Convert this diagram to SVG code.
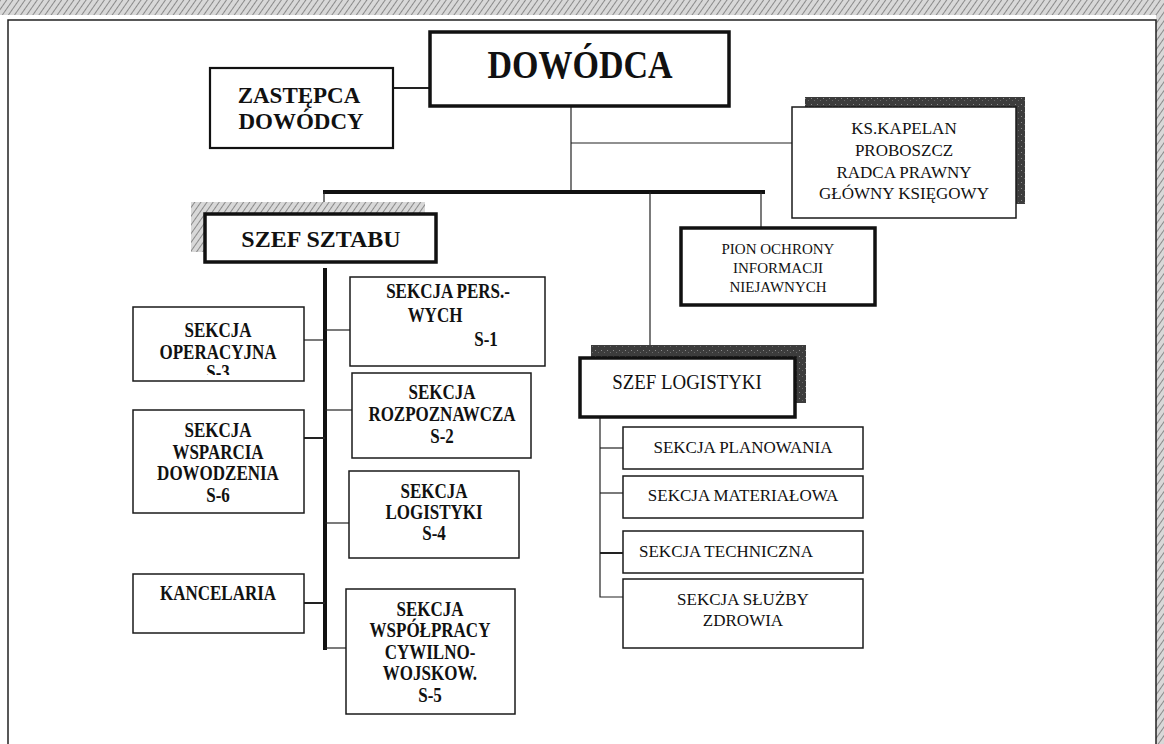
<svg xmlns="http://www.w3.org/2000/svg" width="1164" height="744" viewBox="0 0 1164 744">
  <defs>
    <pattern id="hatch" width="5" height="5" patternUnits="userSpaceOnUse" patternTransform="rotate(35)">
      <rect width="5" height="5" fill="#d8d8d8"/>
      <line x1="0" y1="0" x2="0" y2="5" stroke="#8a8a8a" stroke-width="2"/>
    </pattern>
    <pattern id="dark" width="6" height="6" patternUnits="userSpaceOnUse">
      <rect width="6" height="6" fill="#3c3c3c"/>
      <rect x="1" y="2" width="1" height="1" fill="#8a8a8a"/>
      <rect x="4" y="4" width="1" height="1" fill="#6a6a6a"/>
    </pattern>
    <clipPath id="clipOper">
      <rect x="133" y="307" width="171" height="68"/>
    </clipPath>
    <style>
      .box { fill: #fff; stroke: #1a1a1a; stroke-width: 1.5; }
      .heavy { fill: #fff; stroke: #111; stroke-width: 3.5; }
      .mid { fill: #fff; stroke: #111; stroke-width: 2.2; }
      .bold { font-family: "Liberation Serif", "Times New Roman", serif; font-weight: bold; fill: #111; text-anchor: middle; }
      .reg { font-family: "Liberation Serif", "Times New Roman", serif; fill: #111; text-anchor: middle; }
      .sec { font-size: 20px; }
      .ln { stroke: #222; stroke-width: 1.2; fill: none; }
      .ln2 { stroke: #222; stroke-width: 2; fill: none; }
      .thick { stroke: #111; stroke-width: 4; fill: none; }
    </style>
  </defs>

  <rect width="1164" height="744" fill="#fff"/>

  <!-- page frame with hatched edges -->
  <g id="frame">
    <rect x="0" y="0" width="1164" height="15" fill="url(#hatch)"/>
    <rect x="1156" y="0" width="8" height="744" fill="url(#hatch)"/>
    <polyline points="8,744 8,20 1156,20 1156,744" fill="none" stroke="#222" stroke-width="1.5"/>
  </g>

  <!-- connectors -->
  <g id="connectors">
    <line class="ln2" x1="393" y1="88" x2="430" y2="88"/>
    <line class="ln" x1="571" y1="106" x2="571" y2="192"/>
    <line class="ln" x1="571" y1="143" x2="792" y2="143"/>
    <line class="thick" x1="323" y1="192" x2="765" y2="192"/>
    <line class="ln" x1="324" y1="192" x2="324" y2="214"/>
    <line class="ln" x1="650" y1="192" x2="650" y2="345"/>
    <line class="ln" x1="761" y1="192" x2="761" y2="228"/>
    <!-- chief of staff spine -->
    <line class="thick" x1="325" y1="268" x2="325" y2="650"/>
    <line class="ln" x1="304" y1="340" x2="325" y2="340"/>
    <line class="ln" x1="325" y1="330" x2="350" y2="330"/>
    <line class="ln" x1="325" y1="410" x2="352" y2="410"/>
    <line class="ln2" x1="304" y1="438" x2="325" y2="438"/>
    <line class="ln" x1="325" y1="523" x2="349" y2="523"/>
    <line class="ln2" x1="304" y1="603" x2="325" y2="603"/>
    <line class="ln" x1="325" y1="648" x2="346" y2="648"/>
    <!-- logistics spine -->
    <polyline class="ln" points="600,417 600,597 623,597"/>
    <line class="ln" x1="600" y1="448" x2="623" y2="448"/>
    <line class="ln" x1="600" y1="493" x2="623" y2="493"/>
    <line class="ln2" x1="600" y1="553" x2="623" y2="553"/>
  </g>

  <g id="dowodca">
    <rect class="heavy" x="430" y="32" width="299" height="74"/>
    <text class="bold" transform="matrix(0.85 0 0 1 580 0)" x="0" y="78" font-size="40">DOWÓDCA</text>
  </g>

  <g id="zastepca">
    <rect class="mid" x="210" y="68" width="183" height="80"/>
    <text class="bold" x="299" y="103" font-size="23">ZASTĘPCA</text>
    <text class="bold" x="301" y="129" font-size="23">DOWÓDCY</text>
  </g>

  <g id="kapelan">
    <rect x="805" y="97" width="220" height="107" fill="url(#dark)"/>
    <rect class="box" x="792" y="107" width="224" height="111"/>
    <text class="reg" x="904" y="134" font-size="17">KS.KAPELAN</text>
    <text class="reg" x="904" y="156" font-size="17">PROBOSZCZ</text>
    <text class="reg" x="904" y="178" font-size="17">RADCA PRAWNY</text>
    <text class="reg" x="904" y="199" font-size="17">GŁÓWNY KSIĘGOWY</text>
  </g>

  <g id="szef-sztabu">
    <rect x="191" y="202" width="234" height="50" fill="url(#hatch)"/>
    <rect class="heavy" x="205" y="214" width="231" height="48"/>
    <text class="bold" x="321" y="247" font-size="24">SZEF SZTABU</text>
  </g>

  <g id="pion">
    <rect class="heavy" x="681" y="228" width="194" height="77"/>
    <text class="reg" x="778" y="254" font-size="15">PION OCHRONY</text>
    <text class="reg" x="778" y="273" font-size="15">INFORMACJI</text>
    <text class="reg" x="778" y="292" font-size="15">NIEJAWNYCH</text>
  </g>

  <g id="sekcja-oper">
    <rect class="box" x="133" y="307" width="171" height="74"/>
    <g clip-path="url(#clipOper)">
      <text class="bold sec" transform="matrix(0.85 0 0 1 218 0)" x="0" y="337">SEKCJA</text>
      <text class="bold sec" transform="matrix(0.85 0 0 1 218 0)" x="0" y="359">OPERACYJNA</text>
      <text class="bold sec" transform="matrix(0.85 0 0 1 218 0)" x="0" y="379">S-3</text>
    </g>
  </g>

  <g id="sekcja-wsparcia">
    <rect class="box" x="133" y="410" width="171" height="103"/>
    <text class="bold sec" transform="matrix(0.85 0 0 1 218 0)" x="0" y="437">SEKCJA</text>
    <text class="bold sec" transform="matrix(0.85 0 0 1 218 0)" x="0" y="459">WSPARCIA</text>
    <text class="bold sec" transform="matrix(0.85 0 0 1 218 0)" x="0" y="480">DOWODZENIA</text>
    <text class="bold sec" transform="matrix(0.85 0 0 1 218 0)" x="0" y="502">S-6</text>
  </g>

  <g id="kancelaria">
    <rect class="box" x="133" y="574" width="171" height="59"/>
    <text class="bold sec" transform="matrix(0.85 0 0 1 218 0)" x="0" y="600">KANCELARIA</text>
  </g>

  <g id="sekcja-pers">
    <rect class="box" x="350" y="277" width="195" height="89"/>
    <text class="bold sec" transform="matrix(0.85 0 0 1 448 0)" x="0" y="298">SEKCJA PERS.-</text>
    <text class="bold sec" transform="matrix(0.85 0 0 1 435 0)" x="0" y="322">WYCH</text>
    <text class="bold sec" transform="matrix(0.85 0 0 1 486 0)" x="0" y="346">S-1</text>
  </g>

  <g id="sekcja-rozp">
    <rect class="box" x="352" y="373" width="179" height="85"/>
    <text class="bold sec" transform="matrix(0.85 0 0 1 442 0)" x="0" y="399">SEKCJA</text>
    <text class="bold sec" transform="matrix(0.85 0 0 1 442 0)" x="0" y="421">ROZPOZNAWCZA</text>
    <text class="bold sec" transform="matrix(0.85 0 0 1 442 0)" x="0" y="443">S-2</text>
  </g>

  <g id="sekcja-log">
    <rect class="box" x="349" y="471" width="170" height="87"/>
    <text class="bold sec" transform="matrix(0.85 0 0 1 434 0)" x="0" y="498">SEKCJA</text>
    <text class="bold sec" transform="matrix(0.85 0 0 1 434 0)" x="0" y="519">LOGISTYKI</text>
    <text class="bold sec" transform="matrix(0.85 0 0 1 434 0)" x="0" y="540">S-4</text>
  </g>

  <g id="sekcja-wsp">
    <rect class="box" x="346" y="589" width="169" height="125"/>
    <text class="bold sec" transform="matrix(0.85 0 0 1 430 0)" x="0" y="616">SEKCJA</text>
    <text class="bold sec" transform="matrix(0.85 0 0 1 430 0)" x="0" y="637">WSPÓŁPRACY</text>
    <text class="bold sec" transform="matrix(0.85 0 0 1 430 0)" x="0" y="659">CYWILNO-</text>
    <text class="bold sec" transform="matrix(0.85 0 0 1 430 0)" x="0" y="680">WOJSKOW.</text>
    <text class="bold sec" transform="matrix(0.85 0 0 1 430 0)" x="0" y="702">S-5</text>
  </g>

  <g id="szef-logistyki">
    <rect x="591" y="345" width="215" height="58" fill="url(#dark)"/>
    <rect class="heavy" x="580" y="358" width="215" height="59"/>
    <text class="reg" transform="matrix(0.9 0 0 1 687 0)" x="0" y="389" font-size="21">SZEF LOGISTYKI</text>
  </g>

  <g id="sekcja-planowania">
    <rect class="box" x="623" y="427" width="240" height="42"/>
    <text class="reg" x="743" y="453" font-size="17">SEKCJA PLANOWANIA</text>
  </g>

  <g id="sekcja-materialowa">
    <rect class="box" x="623" y="476" width="240" height="42"/>
    <text class="reg" x="743" y="501" font-size="17">SEKCJA MATERIAŁOWA</text>
  </g>

  <g id="sekcja-techniczna">
    <rect class="box" x="623" y="531" width="240" height="42"/>
    <text class="reg" x="726" y="557" font-size="17">SEKCJA TECHNICZNA</text>
  </g>

  <g id="sekcja-zdrowia">
    <rect class="box" x="623" y="579" width="240" height="69"/>
    <text class="reg" x="743" y="605" font-size="17">SEKCJA SŁUŻBY</text>
    <text class="reg" x="743" y="626" font-size="17">ZDROWIA</text>
  </g>
</svg>
